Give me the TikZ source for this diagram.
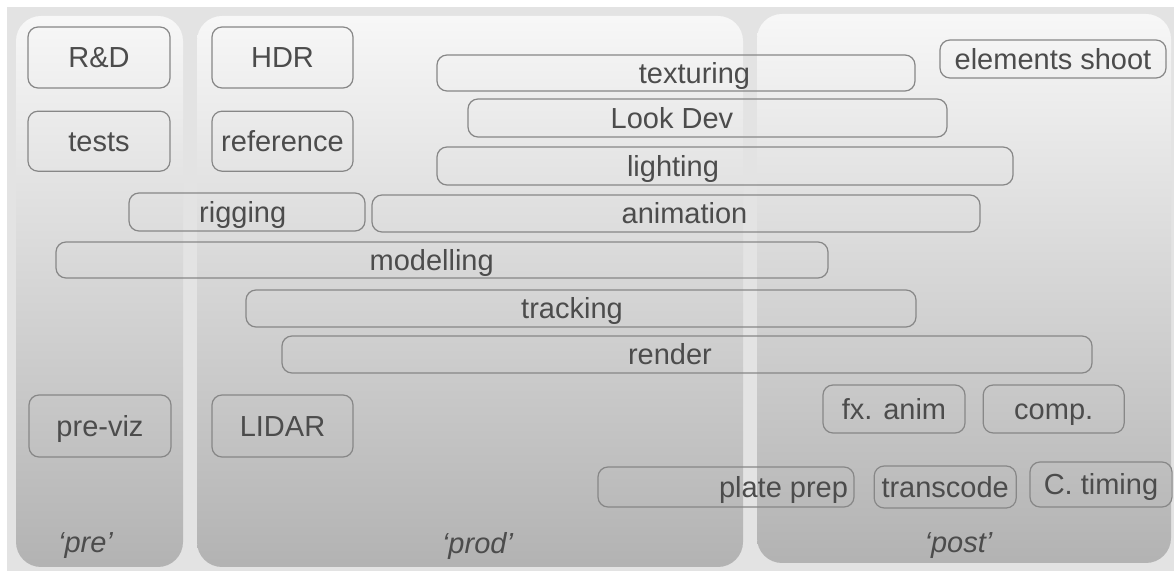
\documentclass[tikz,border=0pt]{standalone}
\usepackage{fontspec}
\setmainfont{Liberation Sans}
\usetikzlibrary{positioning}
\definecolor{bggrey}{gray}{0.89}
\definecolor{coltop}{gray}{0.97}
\definecolor{colbot}{gray}{0.7}
\definecolor{edgegrey}{gray}{0.53}
\definecolor{txtgrey}{gray}{0.3}

\begin{document}
\begin{tikzpicture}[x=0.5pt, y=-0.5pt,
    font=\fontsize{14.5}{17}\selectfont, text=txtgrey,
    phase/.style = {rounded corners=12.5pt, top color=coltop, bottom color=colbot},
    tag/.style = {font=\fontsize{14.5}{17}\selectfont\itshape},
    task/.style = {draw=edgegrey, line width=0.6pt, rounded corners=5pt, inner sep=2pt,
                   minimum width=71pt, text height=10.4pt, text depth=0pt},
    bar/.style = {task, minimum height=18.5pt},
    every label/.style = {draw=none, text height=10.4pt, text depth=0pt}]
    \useasboundingbox[fill=white] (0,0) rectangle (1174,571);
    \fill[bggrey] (7,7) rectangle (1174,571);
    % phases
    \path[phase] (16,16) rectangle (183,567);
    \path[phase] (197,16) rectangle (743,567);
    \path[phase] (757,14) rectangle (1171,563);
    \node[tag] (pre) at (85.5,546) {‘pre’};
    \node[tag] (prod) at (477.5,546) {‘prod’};
    \node[tag] (post) at (958.5,546) {‘post’};
    % single jobs
    \node[task, minimum height=30.5pt] (rd) at (99,57.5) {R\&D};
    \node[task, minimum height=30pt] (tests) [below=11pt of rd] {tests};
    \node[task, minimum width=70.5pt, minimum height=30.5pt] (hdr) at (282.5,57.5) {HDR};
    \node[task, minimum width=70.5pt, minimum height=30pt] (ref) [below=11pt of hdr] {reference};
    \node[task, minimum height=31pt] (previz) at (100,426) {pre-viz};
    \node[task, minimum width=70.5pt, minimum height=31pt] (lidar) at (282.5,426) {LIDAR};
    \node[task, minimum width=113pt, minimum height=19pt] (elem) at (1053,59) {elements shoot};
    \node[task, minimum height=24pt] (fx) at (894,409) {fx. anim};
    \node[task, minimum width=70.5pt, minimum height=24pt] (comp) [right=8.5pt of fx] {comp.};
    % running jobs
    \node[bar, minimum width=239pt, minimum height=18pt, label={[xshift=9.25pt]center:texturing}] (tex) at (676,73) {};
    \node[bar, minimum width=239.5pt, minimum height=19pt, label={[xshift=-17.75pt]center:Look Dev}] (look) at (707.5,118) {};
    \node[bar, minimum width=288pt, minimum height=19pt, label={[xshift=-26pt]center:lighting}] (light) at (725,166) {};
    \node[bar, minimum width=118pt, minimum height=19pt, label={[xshift=-2.15pt]center:rigging}] (rig) at (247,212) {};
    \node[bar, minimum width=304pt, label={[xshift=4.25pt]center:animation}] (anim) at (676,213.5) {};
    \node[bar, minimum width=386pt, minimum height=18pt, label={[xshift=-5.15pt]center:modelling}] (model) at (442,260) {};
    \node[bar, minimum width=335pt, label={[xshift=-4.5pt]center:tracking}] (track) at (581,308.5) {};
    \node[bar, minimum width=405pt, label={[xshift=-8.5pt]center:render}] (render) at (687,354.5) {};
    \node[bar, minimum width=128pt, minimum height=20pt, label={[xshift=28.75pt]center:plate prep}] (plate) at (726,487) {};
    \node[task, minimum height=21pt] (trans) [right=9.5pt of plate] {transcode};
    \node[task, minimum height=22.5pt] (ctime) at (1101,484.5) {C. timing};
\end{tikzpicture}
\end{document}
